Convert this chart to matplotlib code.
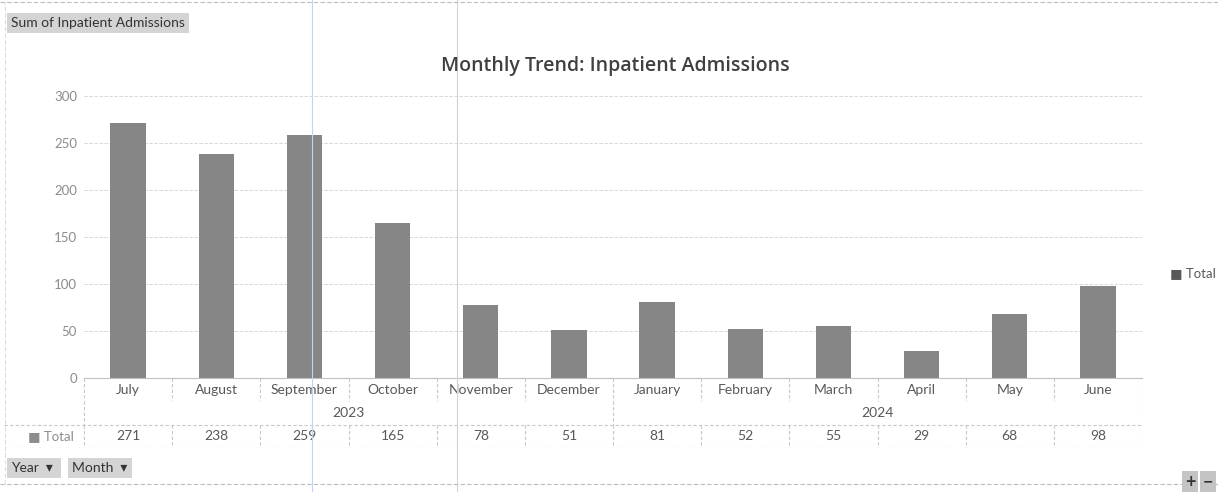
import matplotlib
matplotlib.use("Agg")
import matplotlib.pyplot as plt
from matplotlib.lines import Line2D

# pivot data: monthly inpatient admissions
months = ['July', 'August', 'September', 'October', 'November', 'December',
          'January', 'February', 'March', 'April', 'May', 'June']
years = ['2023', '2024']
months_per_year = [6, 6]
totals = [271, 238, 259, 165, 78, 51, 81, 52, 55, 29, 68, 98]
y_ticks = [0, 50, 100, 150, 200, 250, 300]

W, H = 1218, 492
plt.rcParams['font.family'] = ['Lato', 'DejaVu Sans']

fig = plt.figure(figsize=(W / 100, H / 100), dpi=100)


def px(x0, y0, x1, y1):
    # pixel box (top-left origin) -> figure fraction rect
    return [x0 / W, 1 - y1 / H, (x1 - x0) / W, (y1 - y0) / H]


text_col = '#595959'
grid_col = '#d0d0d0'
n = len(months)
fs = 10

# main plot area
ax = fig.add_axes(px(84, 96, 1142, 378))
ax.bar(range(n), totals, width=0.4, color='#868686', zorder=3)
ax.set_xlim(-0.5, n - 0.5)
ax.set_ylim(0, 300)
ax.set_yticks(y_ticks)
ax.set_yticklabels([str(v) for v in y_ticks], color='#8c8c8c', fontsize=9.5)
ax.tick_params(axis='y', length=0, pad=5)
ax.set_xticks([])
ax.grid(axis='y', color=grid_col, linestyle=(0, (4, 2)), linewidth=0.6, zorder=0)
for s in ['top', 'right', 'left']:
    ax.spines[s].set_visible(False)
ax.spines['bottom'].set_color('#c0c0c0')
ax.spines['bottom'].set_linewidth(0.8)

fig.text(615 / W, 1 - 66 / H, 'Monthly Trend: Inpatient Admissions', ha='center', va='center',
         fontsize=14, fontweight='semibold', color='#404040', family=['Open Sans', 'DejaVu Sans'])

# data table under the axis
tab = fig.add_axes(px(0, 378, 1142, 448))
x_left = -0.5 - 84 / ((1142 - 84) / n)
tab.set_xlim(x_left, n - 0.5)
tab.set_ylim(3, 0)
tab.axis('off')
line_kw = dict(color='#c8c8c8', linewidth=0.8, linestyle=(0, (3, 2)))

for i, m in enumerate(months):
    tab.text(i, 0.5, m, ha='center', va='center', fontsize=fs, color=text_col)
    tab.text(i, 2.5, str(totals[i]), ha='center', va='center', fontsize=fs, color=text_col)
for b in range(n + 1):
    tab.plot([b - 0.5, b - 0.5], [0, 1], **line_kw)
    tab.plot([b - 0.5, b - 0.5], [2, 3], **line_kw)

start = 0
for yr, cnt in zip(years, months_per_year):
    tab.text(start + cnt / 2 - 0.5, 1.5, yr, ha='center', va='center', fontsize=fs, color=text_col)
    tab.plot([start - 0.5, start - 0.5], [1, 2], **line_kw)
    start += cnt
tab.plot([n - 0.5, n - 0.5], [1, 2], **line_kw)
tab.plot([x_left + 0.05, n - 0.5], [2, 2], **line_kw)
tab.plot([x_left + 0.05, n - 0.5], [3, 3], **line_kw)
tab.text(x_left + 0.58, 2.5, '\u25a0 Total', ha='center', va='center', fontsize=9.5, color='#8c8c8c')

# legend
fig.text(1170 / W, 1 - 273 / H, '\u25a0 Total', ha='left', va='center', fontsize=9.5, color=text_col)

# pivot field buttons
btn = dict(boxstyle='square,pad=0.3', facecolor='#d4d4d4', edgecolor='none')
fig.text(11 / W, 1 - 23 / H, 'Sum of Inpatient Admissions', fontsize=10, color='#333333',
         va='center', bbox=btn)
fig.text(11 / W, 1 - 468 / H, 'Year  \u25be ', fontsize=10, color='#333333', va='center', bbox=btn)
fig.text(72 / W, 1 - 468 / H, 'Month  \u25be', fontsize=10, color='#333333', va='center', bbox=btn)
btn2 = dict(boxstyle='square,pad=0.15', facecolor='#c4c4c4', edgecolor='none')
fig.text(1185 / W, 1 - 482 / H, '+', fontsize=13, fontweight='bold', color='#333333',
         va='center', bbox=btn2)
fig.text(1203 / W, 1 - 482 / H, '\u2212', fontsize=13, fontweight='bold', color='#333333',
         va='center', bbox=btn2)

# sheet gridlines and chart border showing through
for xb in [312, 457]:
    fig.add_artist(Line2D([xb / W, xb / W], [0, 1], color='#c5d3ee', linewidth=0.8))
for yb in [2, 484]:
    fig.add_artist(Line2D([0, 1], [1 - yb / H, 1 - yb / H], color='#bdbdbd', linewidth=0.8,
                          linestyle=(0, (4, 2))))
fig.add_artist(Line2D([5 / W, 5 / W], [1 - 484 / H, 1 - 2 / H], color='#dddddd', linewidth=0.8,
                      linestyle=(0, (4, 2))))

fig.savefig('out.png', dpi=100)
